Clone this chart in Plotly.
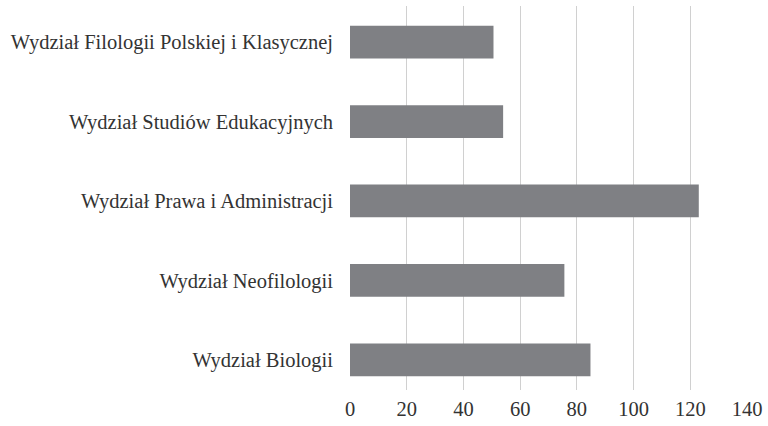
import plotly.graph_objects as go

categories = [
    "Wydział Biologii",
    "Wydział Neofilologii",
    "Wydział Prawa i Administracji",
    "Wydział Studiów Edukacyjnych",
    "Wydział Filologii Polskiej i Klasycznej",
]
values = [84.8, 75.6, 123, 54, 50.6]
x_ticks = [0, 20, 40, 60, 80, 100, 120, 140]

fig = go.Figure(
    go.Bar(
        x=values,
        y=categories,
        orientation="h",
        marker=dict(color="#7F8084", line=dict(width=0)),
        hoverinfo="x+y",
    )
)

fig.update_layout(
    width=768,
    height=426,
    margin=dict(l=350, r=18, t=6, b=33, pad=0),
    paper_bgcolor="white",
    plot_bgcolor="white",
    bargap=0.5875,
    showlegend=False,
    font=dict(family="Liberation Serif, Times New Roman, serif", size=20.5, color="#333333"),
)
fig.update_xaxes(
    range=[0, 140],
    tickvals=x_ticks,
    ticktext=[str(v) for v in x_ticks],
    showgrid=True,
    gridcolor="#D0D0D0",
    gridwidth=1,
    zeroline=False,
    showline=False,
    ticks="",
    ticklabelstandoff=4,
)
fig.update_yaxes(
    range=[-0.381, 4.456],
    showgrid=False,
    zeroline=False,
    showline=False,
    ticks="",
    ticklabelstandoff=16,
)

fig.write_html(
    "out.html",
    config={"displayModeBar": False},
    post_script="document.body.style.margin='0';",
)
